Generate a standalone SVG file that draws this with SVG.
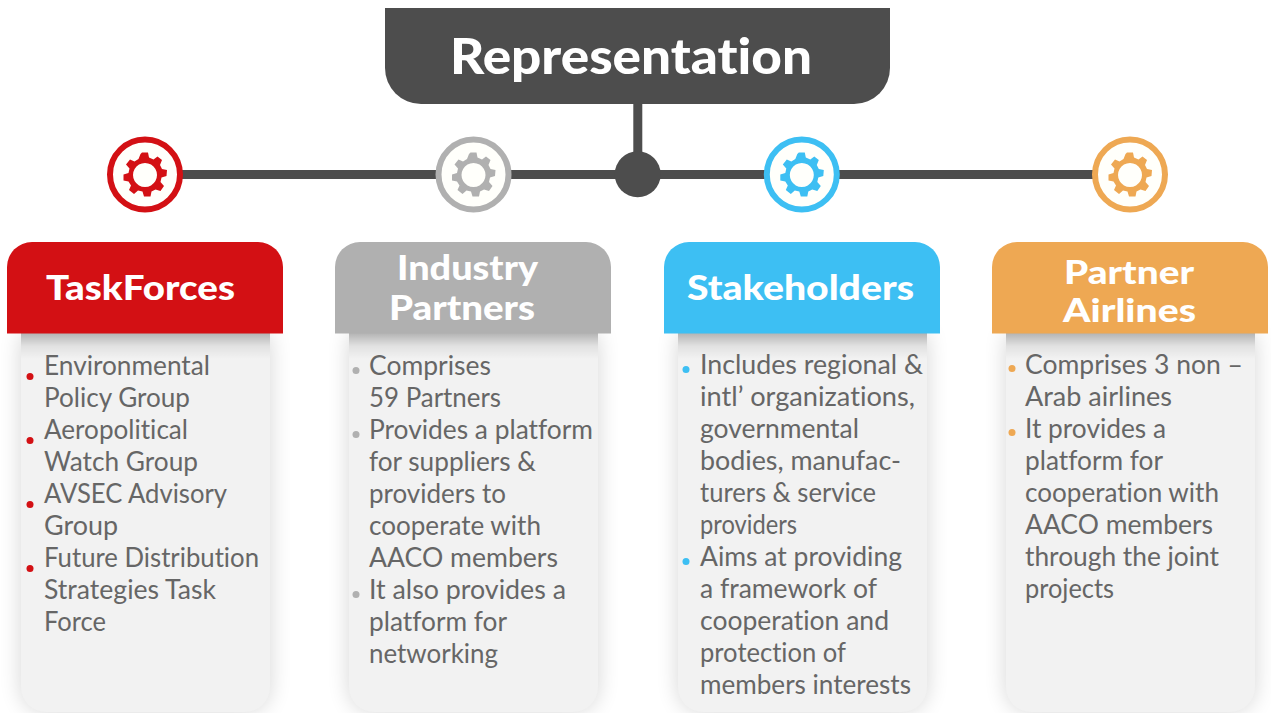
<svg xmlns="http://www.w3.org/2000/svg" width="1271" height="713" viewBox="0 0 1271 713">
<style>
text{font-family:"Lato","Liberation Sans",sans-serif;font-variant-ligatures:none}
.t{font-size:27px;fill:#666}
.h{font-size:35px;font-weight:900;fill:#fff}
.ti{font-size:50px;font-weight:900;fill:#fff}
.body{fill:#f2f2f2}
.ln{stroke:#4d4d4d;stroke-width:9;fill:none}
.ring{fill:#fffffb;stroke-width:6}
.red{fill:#d31014;stroke:none}.gray{fill:#b0b0b0;stroke:none}.blue{fill:#3dbff3;stroke:none}.or{fill:#eea853;stroke:none}
</style>
<defs>
<filter id="sh" x="-20%" y="-10%" width="140%" height="120%"><feGaussianBlur stdDeviation="11"/></filter>
<linearGradient id="top" x1="0" y1="0" x2="0" y2="1"><stop offset="0" stop-color="#000" stop-opacity=".26"/><stop offset=".5" stop-color="#000" stop-opacity=".07"/><stop offset="1" stop-color="#000" stop-opacity="0"/></linearGradient>
<path id="bd" d="M0 0H249V354a25 25 0 0 1-25 25H25a25 25 0 0 1-25-25Z"/>
<path id="hd" d="M0 91.500V25a25 25 0 0 1 25-25H251a25 25 0 0 1 25 25V91.500Z"/>
<path id="gear" fill-rule="evenodd" d="M-3-22.500H3L4-17.500L8.500-15.500L12.500-18.500L17-15L15-10L17-6L22-5L21.500 1L16.500 2.500L15.500 7L19 11L15.500 16L10.500 14.500L6.500 16.500L5.500 21.500H-1L-2.500 16.500L-7 15.500L-11 19L-16 15L-14 10.500L-16.500 6.500L-21.500 5.500L-21.500-.5L-16.500-2L-15.500-6.500L-19-10.500L-15-15.500L-10.500-13.500L-6.500-16L-4.500-21Z M0-12a12 12 0 1 0 .01 0Z"/>
</defs>

<g id="connectors">
<line class="ln" x1="145" y1="174.500" x2="1130" y2="174.500"/>
<line class="ln" x1="637.800" y1="100" x2="637.800" y2="174"/>
<circle cx="637.700" cy="174.200" r="23" fill="#4d4d4d"/>
</g>

<g id="title">
<path d="M385 8H890V68a36 36 0 0 1-36 36H421a36 36 0 0 1-36-36Z" fill="#4d4d4d"/>
<text class="ti" x="450" y="74" textLength="362" lengthAdjust="spacingAndGlyphs">Representation</text>
</g>

<g id="gear-red"><circle class="ring" cx="145" cy="174.500" r="35" stroke="#d31014"/><use href="#gear" x="145" y="175" fill="#d31014"/></g>
<g id="gear-gray"><circle class="ring" cx="473.500" cy="174.500" r="35" stroke="#b0b0b0"/><use href="#gear" x="473.500" y="175" fill="#b0b0b0"/></g>
<g id="gear-blue"><circle class="ring" cx="801.800" cy="174.500" r="35" stroke="#3dbff3"/><use href="#gear" x="801.800" y="175" fill="#3dbff3"/></g>
<g id="gear-orange"><circle class="ring" cx="1130" cy="174.500" r="35" stroke="#eea853"/><use href="#gear" x="1130" y="175" fill="#eea853"/></g>

<g id="taskforces">
<use href="#bd" x="21" y="333" fill="#000" opacity=".16" filter="url(#sh)"/>
<use href="#bd" x="21" y="333" class="body"/>
<rect x="21" y="333" width="249" height="26" fill="url(#top)"/>
<use href="#hd" x="7" y="242" class="red"/>
<text class="h" x="46" y="300" textLength="189" lengthAdjust="spacingAndGlyphs">TaskForces</text>
<circle class="red" cx="30" cy="376.500" r="3.500"/><circle class="red" cx="30" cy="440.500" r="3.500"/><circle class="red" cx="30" cy="504.500" r="3.500"/><circle class="red" cx="30" cy="568.500" r="3.500"/>
<text class="t" x="44" y="375" textLength="166" lengthAdjust="spacingAndGlyphs">Environmental</text>
<text class="t" x="44" y="407" textLength="146" lengthAdjust="spacingAndGlyphs">Policy Group</text>
<text class="t" x="44" y="439" textLength="144" lengthAdjust="spacingAndGlyphs">Aeropolitical</text>
<text class="t" x="44" y="471" textLength="154" lengthAdjust="spacingAndGlyphs">Watch Group</text>
<text class="t" x="44" y="503" textLength="183" lengthAdjust="spacingAndGlyphs">AVSEC Advisory</text>
<text class="t" x="44" y="535" textLength="74" lengthAdjust="spacingAndGlyphs">Group</text>
<text class="t" x="44" y="567" textLength="215" lengthAdjust="spacingAndGlyphs">Future Distribution</text>
<text class="t" x="44" y="599" textLength="172" lengthAdjust="spacingAndGlyphs">Strategies Task</text>
<text class="t" x="44" y="631" textLength="62" lengthAdjust="spacingAndGlyphs">Force</text>
</g>

<g id="industry-partners">
<use href="#bd" x="349" y="333" fill="#000" opacity=".16" filter="url(#sh)"/>
<use href="#bd" x="349" y="333" class="body"/>
<rect x="349" y="333" width="249" height="26" fill="url(#top)"/>
<use href="#hd" x="335" y="242" class="gray"/>
<text class="h" x="397" y="280" textLength="141" lengthAdjust="spacingAndGlyphs">Industry</text>
<text class="h" x="389" y="320" textLength="146" lengthAdjust="spacingAndGlyphs">Partners</text>
<circle class="gray" cx="356" cy="370.500" r="3.500"/><circle class="gray" cx="356" cy="434.500" r="3.500"/><circle class="gray" cx="356" cy="594.500" r="3.500"/>
<text class="t" x="369" y="375" textLength="122" lengthAdjust="spacingAndGlyphs">Comprises</text>
<text class="t" x="369" y="407" textLength="132" lengthAdjust="spacingAndGlyphs">59 Partners</text>
<text class="t" x="369" y="439" textLength="224" lengthAdjust="spacingAndGlyphs">Provides a platform</text>
<text class="t" x="369" y="471" textLength="167" lengthAdjust="spacingAndGlyphs">for suppliers &amp;</text>
<text class="t" x="369" y="503" textLength="137" lengthAdjust="spacingAndGlyphs">providers to</text>
<text class="t" x="369" y="535" textLength="172" lengthAdjust="spacingAndGlyphs">cooperate with</text>
<text class="t" x="369" y="567" textLength="189" lengthAdjust="spacingAndGlyphs">AACO members</text>
<text class="t" x="369" y="599" textLength="197" lengthAdjust="spacingAndGlyphs">It also provides a</text>
<text class="t" x="369" y="631" textLength="138" lengthAdjust="spacingAndGlyphs">platform for</text>
<text class="t" x="369" y="663" textLength="129" lengthAdjust="spacingAndGlyphs">networking</text>
</g>

<g id="stakeholders">
<use href="#bd" x="678" y="333" fill="#000" opacity=".16" filter="url(#sh)"/>
<use href="#bd" x="678" y="333" class="body"/>
<rect x="678" y="333" width="249" height="26" fill="url(#top)"/>
<use href="#hd" x="664" y="242" class="blue"/>
<text class="h" x="687" y="300" textLength="227" lengthAdjust="spacingAndGlyphs">Stakeholders</text>
<circle class="blue" cx="686" cy="369.500" r="3.500"/><circle class="blue" cx="686" cy="561.500" r="3.500"/>
<text class="t" x="700" y="374" textLength="223" lengthAdjust="spacingAndGlyphs">Includes regional &amp;</text>
<text class="t" x="700" y="406" textLength="215" lengthAdjust="spacingAndGlyphs">intl’ organizations,</text>
<text class="t" x="700" y="438" textLength="159" lengthAdjust="spacingAndGlyphs">governmental</text>
<text class="t" x="700" y="470" textLength="201" lengthAdjust="spacingAndGlyphs">bodies, manufac-</text>
<text class="t" x="700" y="502" textLength="176" lengthAdjust="spacingAndGlyphs">turers &amp; service</text>
<text class="t" x="700" y="534" textLength="97" lengthAdjust="spacingAndGlyphs">providers</text>
<text class="t" x="700" y="566" textLength="202" lengthAdjust="spacingAndGlyphs">Aims at providing</text>
<text class="t" x="700" y="598" textLength="177" lengthAdjust="spacingAndGlyphs">a framework of</text>
<text class="t" x="700" y="630" textLength="189" lengthAdjust="spacingAndGlyphs">cooperation and</text>
<text class="t" x="700" y="662" textLength="146" lengthAdjust="spacingAndGlyphs">protection of</text>
<text class="t" x="700" y="694" textLength="211" lengthAdjust="spacingAndGlyphs">members interests</text>
</g>

<g id="partner-airlines">
<use href="#bd" x="1006" y="333" fill="#000" opacity=".16" filter="url(#sh)"/>
<use href="#bd" x="1006" y="333" class="body"/>
<rect x="1006" y="333" width="249" height="26" fill="url(#top)"/>
<use href="#hd" x="992" y="242" class="or"/>
<text class="h" x="1064" y="284" textLength="130" lengthAdjust="spacingAndGlyphs" style="font-size:33px">Partner</text>
<text class="h" x="1063" y="322" textLength="133" lengthAdjust="spacingAndGlyphs" style="font-size:33px">Airlines</text>
<circle class="or" cx="1012" cy="368.500" r="3.500"/><circle class="or" cx="1012" cy="432.500" r="3.500"/>
<text class="t" x="1025" y="374" textLength="218" lengthAdjust="spacingAndGlyphs">Comprises 3 non –</text>
<text class="t" x="1025" y="406" textLength="147" lengthAdjust="spacingAndGlyphs">Arab airlines</text>
<text class="t" x="1025" y="438" textLength="141" lengthAdjust="spacingAndGlyphs">It provides a</text>
<text class="t" x="1025" y="470" textLength="138" lengthAdjust="spacingAndGlyphs">platform for</text>
<text class="t" x="1025" y="502" textLength="194" lengthAdjust="spacingAndGlyphs">cooperation with</text>
<text class="t" x="1025" y="534" textLength="188" lengthAdjust="spacingAndGlyphs">AACO members</text>
<text class="t" x="1025" y="566" textLength="194" lengthAdjust="spacingAndGlyphs">through the joint</text>
<text class="t" x="1025" y="598" textLength="89" lengthAdjust="spacingAndGlyphs">projects</text>
</g>
</svg>
